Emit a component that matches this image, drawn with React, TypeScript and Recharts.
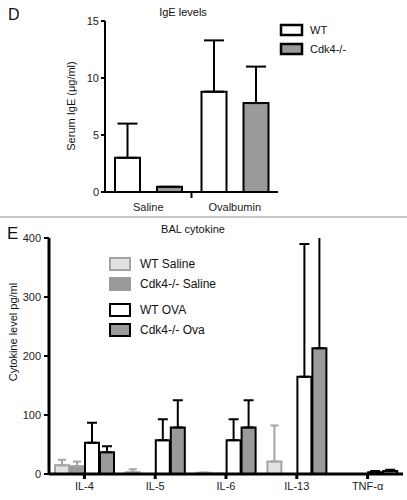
import React from 'react';
import { BarChart, Bar, XAxis, YAxis, ErrorBar } from 'recharts';

const FONT = '"Liberation Sans", Arial, Helvetica, sans-serif';
const GREY = '#9a9a9a';
const LIGHT = '#e2e2e2';
const LIGHT_EDGE = '#a4a4a4';

// Panel D - serum IgE
const igeGroups = ['Saline', 'Ovalbumin'];
const igeWt = [3, 8.8];
const igeWtErr = [3, 4.5];
const igeKo = [0.45, 7.8];
const igeKoErr = [0, 3.2];
const igeTicks = [0, 5, 10, 15];
const igeLegend = ['WT', 'Cdk4-/-'];

// Panel E - BAL cytokines
const cytokines = ['IL-4', 'IL-5', 'IL-6', 'IL-13', 'TNF-α'];
const wtSaline = [15, 3, 2, 21, 0];
const wtSalineErr = [9, 5, 0, 61, 0];
const koSaline = [13, 0, 0.5, 0, 0];
const koSalineErr = [8, 0, 0, 0, 0];
const wtOva = [53, 57, 57, 165, 3];
const wtOvaErr = [34, 36, 36, 225, 2];
const koOva = [37, 79, 79, 213, 5];
const koOvaErr = [10, 46, 46, 250, 2];
const cytoTicks = [0, 100, 200, 300, 400];
const cytoLegend = ['WT Saline', 'Cdk4-/- Saline', 'WT OVA', 'Cdk4-/- Ova'];

const igeData = igeGroups.map((g, i) => ({
  group: g,
  wt: igeWt[i],
  wtErr: [0, igeWtErr[i]],
  ko: igeKo[i],
  koErr: [0, igeKoErr[i]],
}));

const cytoData = cytokines.map((c, i) => ({
  name: c,
  wtSal: wtSaline[i],
  wtSalErr: [0, wtSalineErr[i]],
  koSal: koSaline[i],
  koSalErr: [0, koSalineErr[i]],
  wtOva: wtOva[i],
  wtOvaErr: [0, wtOvaErr[i]],
  koOva: koOva[i],
  koOvaErr: [0, koOvaErr[i]],
}));

// layout of panel D
const D_W = 407;
const D_H = 215;
const D_LEFT = 105;
const D_RIGHT = 129;
const D_XH = 23;
const D_AXIS_Y = D_H - D_XH;
const D_HALF_BAND = (D_W - D_LEFT - D_RIGHT) / igeGroups.length / 2;

// panel E: error bars that run past 400 are cut at the top of the plot
const E_TOP = 18;
const E_CLIP = `polygon(0 0, 60px 0, 60px ${E_TOP}px, 100% ${E_TOP}px, 100% 100%, 0 100%)`;

const IgeTick = (props: any) => {
  const { x, payload, index } = props;
  return (
    <g>
      <text x={x} y={D_AXIS_Y + 19} textAnchor="middle" fontSize={11} fill="#222" fontFamily={FONT}>
        {payload.value}
      </text>
      {index === 0 && (
        <line x1={x + D_HALF_BAND} x2={x + D_HALF_BAND} y1={D_AXIS_Y} y2={D_AXIS_Y + 6} stroke="#000" strokeWidth={2} />
      )}
    </g>
  );
};

const legendBox = (fill: string, stroke: string, sw: number) => ({ fill, stroke, strokeWidth: sw });
const igeStyles = [legendBox('#fff', '#000', 2.5), legendBox(GREY, '#000', 2.5)];
const cytoStyles = [
  legendBox(LIGHT, LIGHT_EDGE, 2),
  legendBox(GREY, GREY, 2),
  legendBox('#fff', '#000', 2),
  legendBox(GREY, '#000', 2),
];
const cytoRows = [264, 284, 310, 330];

export default function App() {
  return (
    <div style={{ position: 'absolute', left: 0, top: 0, width: 407, height: 500, background: '#fff', fontFamily: FONT }}>
      <div style={{ position: 'absolute', left: 0, top: 0 }}>
        <BarChart
          width={D_W}
          height={D_H}
          data={igeData}
          margin={{ top: 21, right: D_RIGHT, bottom: 0, left: 0 }}
          barCategoryGap={10}
          barGap={17}
        >
          <XAxis
            dataKey="group"
            height={D_XH}
            tickLine={false}
            axisLine={{ stroke: '#000', strokeWidth: 2 }}
            tick={<IgeTick />}
            interval={0}
          />
          <YAxis
            width={D_LEFT}
            domain={[0, 15]}
            ticks={igeTicks}
            tickSize={4}
            tickMargin={2}
            axisLine={{ stroke: '#000', strokeWidth: 2 }}
            tickLine={{ stroke: '#000', strokeWidth: 2 }}
            tick={{ fontSize: 11, fill: '#222', fontFamily: FONT }}
          />
          <Bar dataKey="wt" fill="#fff" stroke="#000" strokeWidth={2} isAnimationActive={false}>
            <ErrorBar dataKey="wtErr" direction="y" width={10} stroke="#000" strokeWidth={2} />
          </Bar>
          <Bar dataKey="ko" fill={GREY} stroke="#000" strokeWidth={2} isAnimationActive={false}>
            <ErrorBar dataKey="koErr" direction="y" width={10} stroke="#000" strokeWidth={2} />
          </Bar>
        </BarChart>
      </div>

      <div style={{ position: 'absolute', left: 0, top: 220, clipPath: E_CLIP }}>
        <BarChart
          width={407}
          height={280}
          data={cytoData}
          margin={{ top: E_TOP, right: 4, bottom: 0, left: 0 }}
          barCategoryGap={6}
          barGap={1}
        >
          <XAxis
            dataKey="name"
            height={26}
            interval={0}
            tickSize={5}
            tickMargin={3}
            axisLine={{ stroke: '#000', strokeWidth: 3 }}
            tickLine={{ stroke: '#000', strokeWidth: 3 }}
            tick={{ fontSize: 11, fill: '#222', fontFamily: FONT }}
          />
          <YAxis
            width={49}
            domain={[0, 400]}
            allowDataOverflow
            ticks={cytoTicks}
            tickSize={5}
            tickMargin={3}
            axisLine={{ stroke: '#000', strokeWidth: 3 }}
            tickLine={{ stroke: '#000', strokeWidth: 2 }}
            tick={{ fontSize: 11, fill: '#222', fontFamily: FONT }}
          />
          <Bar dataKey="wtSal" fill={LIGHT} stroke={LIGHT_EDGE} strokeWidth={2} isAnimationActive={false}>
            <ErrorBar dataKey="wtSalErr" direction="y" width={4} stroke={LIGHT_EDGE} strokeWidth={2} />
          </Bar>
          <Bar dataKey="koSal" fill={GREY} stroke={GREY} strokeWidth={2} isAnimationActive={false}>
            <ErrorBar dataKey="koSalErr" direction="y" width={4} stroke={LIGHT_EDGE} strokeWidth={2} />
          </Bar>
          <Bar dataKey="wtOva" fill="#fff" stroke="#000" strokeWidth={2} isAnimationActive={false}>
            <ErrorBar dataKey="wtOvaErr" direction="y" width={5} stroke="#000" strokeWidth={2} />
          </Bar>
          <Bar dataKey="koOva" fill={GREY} stroke="#000" strokeWidth={2} isAnimationActive={false}>
            <ErrorBar dataKey="koOvaErr" direction="y" width={5} stroke="#000" strokeWidth={2} />
          </Bar>
        </BarChart>
      </div>

      <svg width={407} height={500} style={{ position: 'absolute', left: 0, top: 0, pointerEvents: 'none' }}>
        <g fontFamily={FONT} fill="#111">
          <text x={8} y={20} fontSize={16}>D</text>
          <text x={183} y={16} fontSize={11} textAnchor="middle">IgE levels</text>
          <text transform="translate(75,106) rotate(-90)" fontSize={11} textAnchor="middle">Serum IgE (μg/ml)</text>
          {igeLegend.map((name, i) => (
            <g key={name}>
              <rect x={281} y={25 + i * 19} width={21} height={10} {...igeStyles[i]} />
              <text x={310} y={34 + i * 19} fontSize={11}>{name}</text>
            </g>
          ))}

          <line x1={0} x2={407} y1={217} y2={217} stroke="#c8c8c8" strokeWidth={2} />

          <text x={7} y={239} fontSize={17}>E</text>
          <text x={193} y={233} fontSize={11} textAnchor="middle">BAL cytokine</text>
          <text transform="translate(17,332) rotate(-90)" fontSize={11} textAnchor="middle">Cytokine level  pg/ml</text>
          {cytoLegend.map((name, i) => (
            <g key={name}>
              <rect x={110} y={cytoRows[i] - 6} width={20} height={12} {...cytoStyles[i]} />
              <text x={140} y={cytoRows[i] + 4} fontSize={12}>{name}</text>
            </g>
          ))}
        </g>
      </svg>
    </div>
  );
}
